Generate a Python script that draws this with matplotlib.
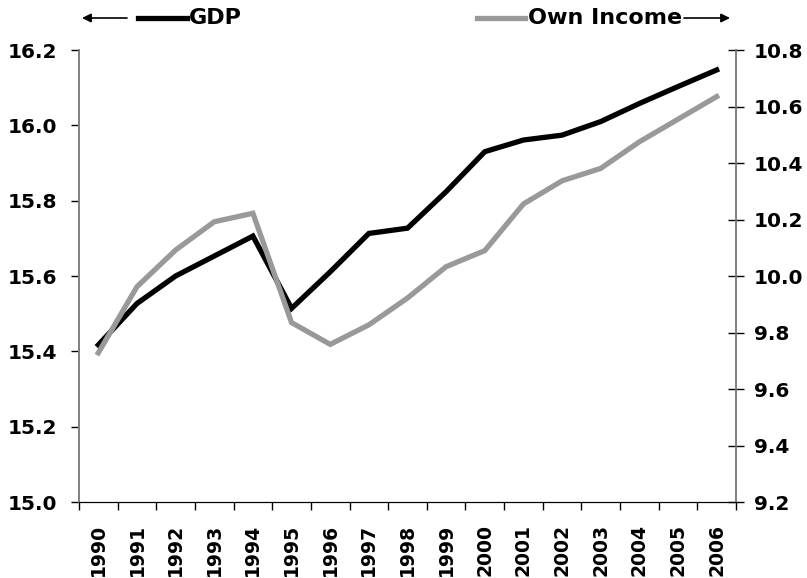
import matplotlib.pyplot as plt
import numpy as np
from matplotlib.lines import Line2D

plt.rcParams['font.family'] = ['DejaVu Sans']
plt.rcParams['font.weight'] = 'bold'

anos = [str(a) for a in range(1990, 2007)]
gdp = [15.417, 15.527, 15.600, 15.653, 15.706, 15.514, 15.611, 15.713, 15.727,
       15.824, 15.930, 15.961, 15.974, 16.010, 16.058, 16.103, 16.147]
own_income = [9.728, 9.962, 10.092, 10.192, 10.222, 9.835, 9.758, 9.827, 9.922,
              10.033, 10.090, 10.255, 10.337, 10.381, 10.475, 10.555, 10.635]

fig = plt.figure(figsize=(8.07, 5.78), dpi=100)
ax = fig.add_axes([79/807, 1-502/578, (736-79)/807, (502-50)/578])
ax2 = ax.twinx()

x = np.arange(len(anos))
ax.plot(x, gdp, color='black', lw=3.8, solid_joinstyle='miter', zorder=3)
ax2.plot(x, own_income, color='#999999', lw=3.8, solid_joinstyle='miter')

# eixo x
ax.set_xlim(-0.5, len(anos)-0.5)
ax.set_xticks(np.arange(-0.5, len(anos), 1))
ax.set_xticklabels([])
ax.set_xticks(x, minor=True)
ax.set_xticklabels(anos, minor=True, rotation=90, fontsize=13.5, fontweight='bold')
ax.tick_params(axis='x', which='major', direction='out', length=6, width=1)
ax.tick_params(axis='x', which='minor', length=0, pad=16)

# eixo esquerdo
ax.set_ylim(15.0, 16.2)
ax.set_yticks(np.arange(15.0, 16.21, 0.2))
ax.set_yticklabels(['%.1f' % v for v in np.arange(15.0, 16.21, 0.2)], fontsize=14.5, fontweight='bold')
ax.tick_params(axis='y', direction='out', length=6, width=1, pad=9.5)

# eixo direito
ax2.set_ylim(9.2, 10.8)
ax2.set_yticks(np.arange(9.2, 10.81, 0.2))
ax2.set_yticklabels(['%.1f' % v for v in np.arange(9.2, 10.81, 0.2)], fontsize=14.5, fontweight='bold')
ax2.tick_params(axis='y', direction='inout', length=12, width=1, pad=7)

for a in (ax, ax2):
    a.spines['top'].set_visible(False)
    a.spines['left'].set_color('#808080')
    a.spines['right'].set_color('#808080')
    a.spines['bottom'].set_color('black')
    a.spines['left'].set_linewidth(1.2)
    a.spines['right'].set_linewidth(1.2)

# legenda manual
yl = 1 - 18/578
seta = dict(arrowstyle='-|>', color='black', lw=1.2, mutation_scale=13, shrinkA=0, shrinkB=0)
ax.annotate('', xy=(82/807, yl), xytext=(127/807, yl), xycoords='figure fraction', arrowprops=seta)
fig.add_artist(Line2D([138/807, 187/807], [yl, yl], color='black', lw=3.8, transform=fig.transFigure))
fig.text(189/807, yl, 'GDP', fontsize=16, fontweight='bold', va='center', ha='left')

fig.add_artist(Line2D([477/807, 525/807], [yl, yl], color='#999999', lw=3.8, transform=fig.transFigure))
fig.text(528/807, yl, 'Own Income', fontsize=16, fontweight='bold', va='center', ha='left')
ax.annotate('', xy=(730/807, yl), xytext=(684/807, yl), xycoords='figure fraction', arrowprops=seta)

fig.savefig('out.png', dpi=100)
